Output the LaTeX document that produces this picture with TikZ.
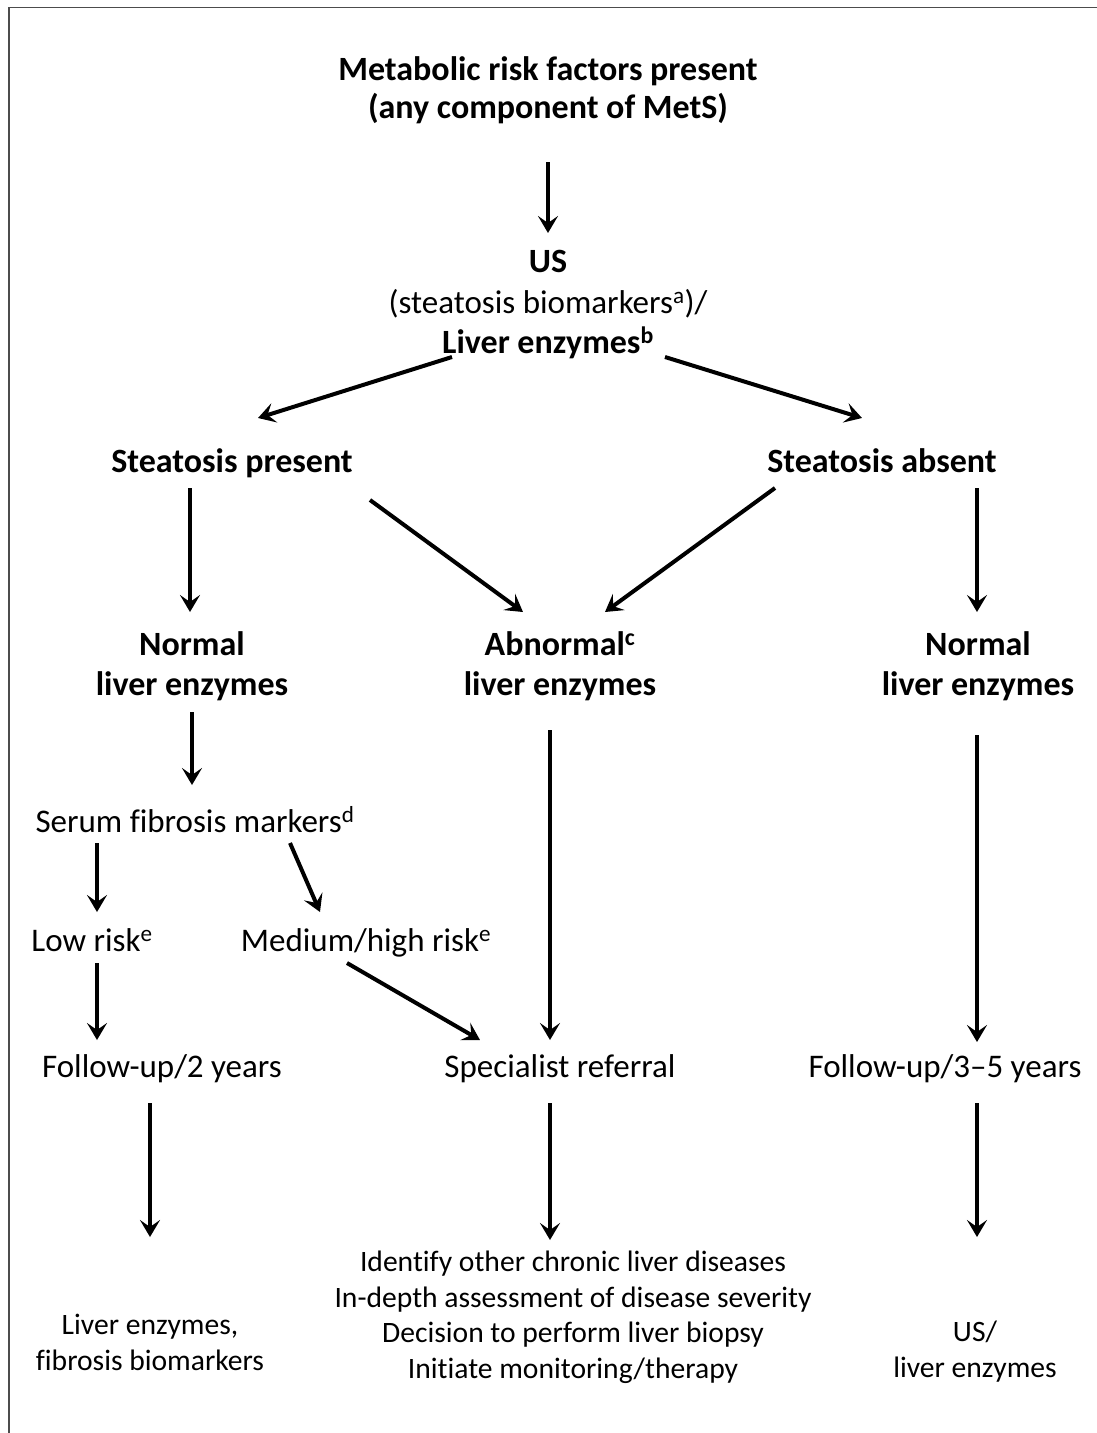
\documentclass[tikz,border=0pt]{standalone}
\usepackage{fontspec}
\setmainfont{Carlito}[Ligatures={NoCommon}]
\usetikzlibrary{arrows.meta,calc}
\begin{document}
\begin{tikzpicture}[x=1pt,y=-1pt,
  arr/.style={line width=4pt,line cap=butt,-{Stealth[length=17pt,width=20pt,inset=7pt]}},
  bt/.style={font=\fontsize{34}{40}\selectfont\bfseries, align=center, inner sep=0pt, anchor=base},
  rt/.style={font=\fontsize{33}{38}\selectfont, align=center, inner sep=0pt, anchor=base},
  st/.style={font=\fontsize{29.6}{35.5}\selectfont, align=center, inner sep=0pt, anchor=base}]
\useasboundingbox (0,0) rectangle (1097,1433);
\draw[line width=1.5pt, black!70] (9,1433) -- (9,7.5) -- (1097,7.5);

% multi-line nodes are anchored at the baseline of their last line
\node[bt] (met) at (548,118) {Metabolic risk factors present\\[-2pt](any component of MetS)};
\node[bt] (us) at (548,272) {US};
\node[rt] (usb) at (548,313) {(steatosis biomarkers\textsuperscript{a})/};
\node[bt] (usl) at (548,353) {Liver enzymes\textsuperscript{b}};
\node[bt] (sp) at (232,472) {Steatosis present};
\node[bt] (sa) at (882,472) {Steatosis absent};
\node[bt] (nl1) at (192,695) {Normal\\liver enzymes};
\node[bt] (ab) at (560,695) {Abnormal\textsuperscript{c}\\liver enzymes};
\node[bt] (nl2) at (978,695) {Normal\\liver enzymes};
\node[rt] (sfm) at (195,832) {Serum fibrosis markers\textsuperscript{d}};
\node[rt] (low) at (92,951) {Low risk\textsuperscript{e}};
\node[rt] (med) at (366,951) {Medium/high risk\textsuperscript{e}};
\node[rt] (fu2) at (162,1077) {Follow-up/2 years};
\node[rt] (spr) at (560,1077) {Specialist referral};
\node[rt] (fu35) at (945,1077) {Follow-up/3–5 years};
\node[st] (le) at (150,1370) {Liver enzymes,\\fibrosis biomarkers};
\node[st] (idl) at (573,1378) {Identify other chronic liver diseases\\In-depth assessment of disease severity\\Decision to perform liver biopsy\\Initiate monitoring/therapy};
\node[st] (usl2) at (975,1377) {US/\\liver enzymes};

\draw[arr] ($(met.base)+(0,44)$) -- ($(us.base)+(0,-39)$);
\draw[arr] ($(usl.base)+(-96,4)$) -- ($(sp.base)+(26,-54)$);
\draw[arr] ($(usl.base)+(117,4)$) -- ($(sa.base)+(-20,-54)$);
\draw[arr] ($(sp.base)+(-42,16)$) -- ($(nl1.base)+(-2,-83)$);
\draw[arr] ($(sp.base)+(138,28)$) -- ($(ab.base)+(-37,-83)$);
\draw[arr] ($(sa.base)+(-107,16)$) -- ($(ab.base)+(45,-83)$);
\draw[arr] ($(sa.base)+(95,16)$) -- ($(nl2.base)+(-1,-83)$);
\draw[arr] ($(nl1.base)+(0,17)$) -- ($(sfm.base)+(-3,-47)$);
\draw[arr] ($(ab.base)+(-10,35)$) -- ($(spr.base)+(-10,-37)$);
\draw[arr] ($(nl2.base)+(-1,40)$) -- ($(fu35.base)+(32,-35)$);
\draw[arr] ($(sfm.base)+(-98,11)$) -- ($(low.base)+(5,-39)$);
\draw[arr] ($(sfm.base)+(95,11)$) -- ($(med.base)+(-46,-39)$);
\draw[arr] ($(low.base)+(5,12)$) -- ($(fu2.base)+(-65,-37)$);
\draw[arr] ($(med.base)+(-19,12)$) -- ($(spr.base)+(-80,-37)$);
\draw[arr] ($(fu2.base)+(-12,26)$) -- ($(le.base)+(0,-133)$);
\draw[arr] ($(spr.base)+(-10,26)$) -- ($(idl.base)+(-23,-138)$);
\draw[arr] ($(fu35.base)+(32,26)$) -- ($(usl2.base)+(2,-140)$);
\end{tikzpicture}
\end{document}
